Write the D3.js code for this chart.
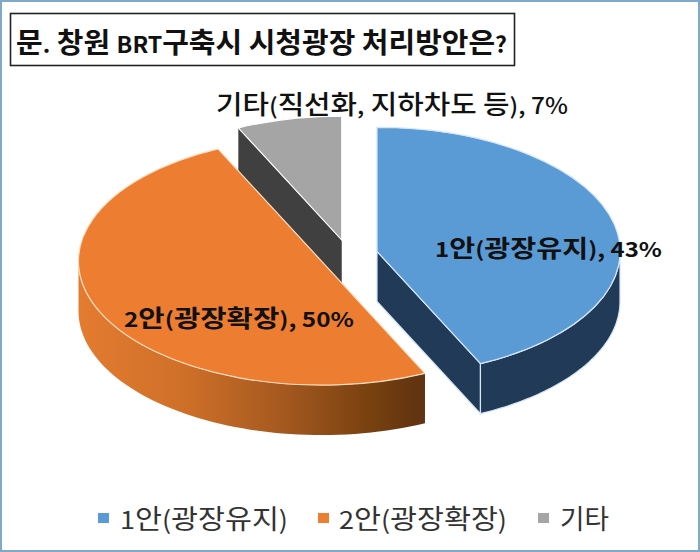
<!DOCTYPE html>
<html><head><meta charset="utf-8">
<script src="https://cdn.jsdelivr.net/npm/d3@7/dist/d3.min.js"></script>
<style>html,body{margin:0;padding:0;background:#fff}svg{display:block}
text{font-family:"Noto Sans CJK KR","Noto Sans",sans-serif;fill:#111}</style>
</head><body><div id="c"></div>
<script>
const categories = ["1안(광장유지)", "2안(광장확장)", "기타"];
const values = [43, 50, 7];
const dataLabels = ["1안(광장유지), 43%", "2안(광장확장), 50%", "기타(직선화, 지하차도 등), 7%"];
const titleText = "문. 창원 BRT구축시 시청광장 처리방안은?";
const topColors = ["#5b9bd5", "#ed7d31", "#a5a5a5"];
const rimColors = ["#d5e6f6", "#ffe0c4", "#ffffff"];
const wallColors = ["#203a57", "#7a3f12", "#404040"];

const W = 700, H = 552;
const cx = 348.2, cy = 254.7, rx = 243, ry = 124, depth = 50, ex = 29.5, ey = 15;

const svg = d3.select("#c").append("svg").attr("width", W).attr("height", H);
svg.append("rect").attr("x",1).attr("y",1).attr("width",W-2).attr("height",H-2)
  .attr("fill","#fff").attr("stroke","#7fa9c9").attr("stroke-width",2);

const defs = svg.append("defs");
const grad = defs.append("linearGradient").attr("id","og").attr("gradientUnits","userSpaceOnUse")
  .attr("x1",80).attr("x2",424).attr("y1",0).attr("y2",0);
[[0,"#e37b30"],[0.3,"#cf7029"],[0.6,"#a3581f"],[0.85,"#77400f"],[1,"#5f3211"]].forEach(s=>grad.append("stop").attr("offset",s[0]).attr("stop-color",s[1]));

const pie = d3.pie().sort(null).value(d=>d)(values);
const arc = d3.arc().innerRadius(0).outerRadius(1);
const scaleX = d3.scaleLinear().domain([-1,1]).range([-rx,rx]);
const scaleY = d3.scaleLinear().domain([-1,1]).range([-ry,ry]);
const pt = (a, r=1)=>[scaleX(r*Math.sin(a)), scaleY(-r*Math.cos(a))];
const line = d3.line();

const order = [2,0,1];
order.forEach(i=>{
  const p = pie[i];
  const mid = (p.startAngle+p.endAngle)/2;
  const ox = cx + ex*Math.sin(mid), oy = cy - ey*Math.cos(mid);
  const g = svg.append("g").attr("transform",`translate(${ox},${oy})`);

  const cutAngle = i===0 ? p.endAngle : (i===2 ? p.startAngle : null);
  if (cutAngle !== null) {
    const e = pt(cutAngle);
    g.append("path").attr("d", line([[0,0],e,[e[0],e[1]+depth],[0,depth]])+"Z")
      .attr("fill", wallColors[i]).attr("stroke",rimColors[i]).attr("stroke-width",i===0?1.2:0);
  }
  const a0 = Math.max(p.startAngle, Math.PI/2), a1 = Math.min(p.endAngle, 3*Math.PI/2);
  if (a1 > a0) {
    const as = d3.range(0,61).map(k=>a0+(a1-a0)*k/60);
    const upper = as.map(a=>pt(a));
    const lower = as.slice().reverse().map(a=>{const q=pt(a);return [q[0],q[1]+depth];});
    const wall = g.append("path").attr("d", line(upper.concat(lower))+"Z");
    if (i===1) {
      grad.attr("gradientTransform",`translate(${-ox},0)`);
      wall.attr("fill","url(#og)");
    } else {
      wall.attr("fill", wallColors[i]).attr("stroke",rimColors[i]).attr("stroke-width",1.2);
    }
  }
  g.append("path").attr("transform",`scale(${rx},${ry})`)
    .attr("d", arc({startAngle:p.startAngle,endAngle:p.endAngle}))
    .attr("fill", topColors[i]).attr("stroke",rimColors[i]).attr("stroke-width",1.2)
    .attr("vector-effect","non-scaling-stroke");
});

svg.append("rect").attr("x",10.5).attr("y",13.5).attr("width",504).attr("height",52)
  .attr("fill","#fff").attr("stroke","#222").attr("stroke-width",1.6);

// Hangul runs at full size; Latin, digits and punctuation smaller, as in the source
function txt(s,x,x2,y,size,weight,latin,fill){
  const t = svg.append("text").attr("x",x).attr("y",y).attr("dy","0.36em")
    .attr("font-size",size).attr("font-weight",weight).style("fill",fill||"#111")
    .attr("textLength",x2-x).attr("lengthAdjust","spacingAndGlyphs");
  s.match(/[\uAC00-\uD7A3 ]+|[^\uAC00-\uD7A3 ]+/g).forEach(run=>{
    t.append("tspan").attr("font-size",/[\uAC00-\uD7A3]/.test(run)?size:size*latin).text(run);
  });
  return t;
}
txt(titleText,16,507,43,28,700,0.8);
txt(dataLabels[2],216,568,105,26,500,0.85);
txt(dataLabels[0],435,662,248,24,700,0.85);
txt(dataLabels[1],124,354,318,24,700,0.85);

const legendX = [98,318,538], legendText=[[120,288],[339,507],[560,609]];
categories.forEach((c,i)=>{
  svg.append("rect").attr("x",legendX[i]).attr("y",513).attr("width",11).attr("height",10).attr("fill",topColors[i]);
  txt(c,legendText[i][0],legendText[i][1],519,27,400,0.92,"#333");
});
</script></body></html>
